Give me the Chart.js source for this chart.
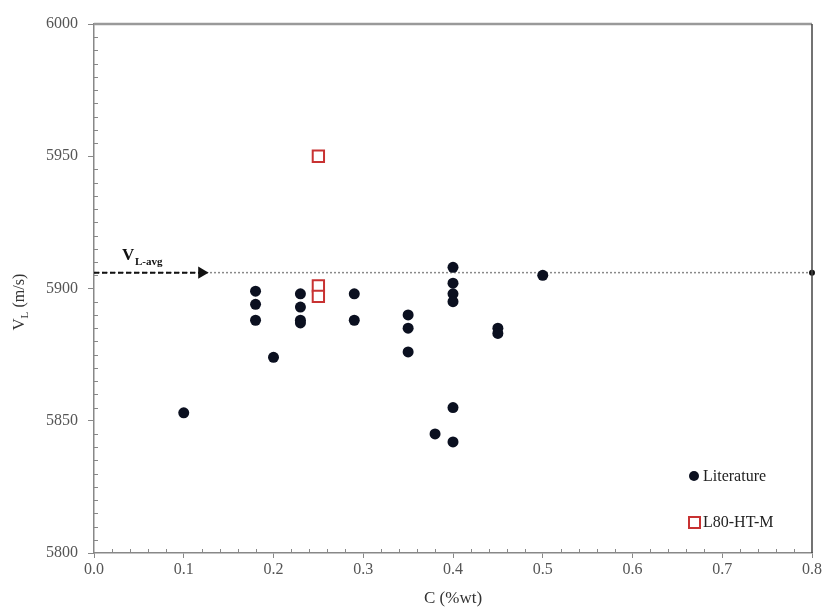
<!DOCTYPE html>
<html>
<head>
<meta charset="utf-8">
<script src="https://cdn.jsdelivr.net/npm/chart.js@4"></script>
<style>
  html, body { margin: 0; padding: 0; background: #fff; }
  #wrap { width: 825px; height: 607px; }
</style>
</head>
<body>
<div id="wrap"><canvas id="chartVL"></canvas></div>
<script>
// literature points: carbon content (%wt) and longitudinal velocity (m/s)
const litC = [0.1, 0.18, 0.18, 0.18, 0.2, 0.23, 0.23, 0.23, 0.23, 0.29, 0.29,
              0.35, 0.35, 0.35, 0.38, 0.4, 0.4, 0.4, 0.4, 0.4, 0.4, 0.45, 0.45, 0.5];
const litV = [5853, 5899, 5894, 5888, 5874, 5898, 5893, 5888, 5887, 5898, 5888,
              5890, 5885, 5876, 5845, 5908, 5902, 5898, 5895, 5855, 5842, 5885, 5883, 5905];
// L80-HT-M measurements
const l80C = [0.25, 0.25, 0.25];
const l80V = [5950, 5901, 5897];
// average velocity line
const avgV = 5906;
const avgLineC = [0, 0.8];
const arrowC = [0, 0.12];
const xTicks = [0, 0.1, 0.2, 0.3, 0.4, 0.5, 0.6, 0.7, 0.8];
const yTicks = [5800, 5850, 5900, 5950, 6000];

const serif = "'Liberation Serif', 'Times New Roman', serif";

const toPts = (xs, ys) => xs.map((x, i) => ({ x: x, y: ys[i] }));

// minor ticks, frame, legend and the labels with subscripts
const extras = {
    id: 'extras',
    afterDraw(chart) {
        const ctx = chart.ctx;
        const a = chart.chartArea;
        const xs = chart.scales.x, ys = chart.scales.y;
        ctx.save();
        // top / right frame
        ctx.strokeStyle = '#9a9a9a';
        ctx.lineWidth = 2.5;
        ctx.beginPath();
        ctx.moveTo(a.left, a.top);
        ctx.lineTo(a.right, a.top);
        ctx.stroke();
        ctx.strokeStyle = '#444';
        ctx.lineWidth = 1.5;
        ctx.beginPath();
        ctx.moveTo(a.right, a.top);
        ctx.lineTo(a.right, a.bottom);
        ctx.stroke();

        // minor ticks
        ctx.strokeStyle = '#888';
        ctx.lineWidth = 1;
        ctx.beginPath();
        for (let i = 1; i < 40; i++) {
            if (i % 5 === 0) continue;
            const px = Math.round(xs.getPixelForValue(i * 0.02)) + 0.5;
            ctx.moveTo(px, a.bottom);
            ctx.lineTo(px, a.bottom - 4);
        }
        for (let i = 1; i < 40; i++) {
            if (i % 10 === 0) continue;
            const py = Math.round(ys.getPixelForValue(5800 + i * 5)) + 0.5;
            ctx.moveTo(a.left, py);
            ctx.lineTo(a.left + 4, py);
        }
        ctx.stroke();

        // legend
        ctx.fillStyle = '#0b1020';
        ctx.beginPath();
        ctx.arc(a.right - 118, a.bottom - 77, 5, 0, Math.PI * 2);
        ctx.fill();
        ctx.strokeStyle = '#c83232';
        ctx.lineWidth = 2;
        ctx.fillStyle = '#fff';
        ctx.fillRect(a.right - 123, a.bottom - 36, 11, 11);
        ctx.strokeRect(a.right - 123, a.bottom - 36, 11, 11);
        ctx.fillStyle = '#222';
        ctx.font = '16px ' + serif;
        ctx.textBaseline = 'middle';
        ctx.textAlign = 'left';
        ctx.fillText('Literature', a.right - 109, a.bottom - 76);
        ctx.fillText('L80-HT-M', a.right - 109, a.bottom - 30);

        // V_L-avg label
        const yAvg = ys.getPixelForValue(avgV);
        ctx.fillStyle = '#111';
        ctx.textBaseline = 'alphabetic';
        ctx.font = 'bold 17px ' + serif;
        ctx.fillText('V', a.left + 28, yAvg - 13);
        ctx.font = 'bold 11px ' + serif;
        ctx.fillText('L-avg', a.left + 41, yAvg - 8);

        // y axis title
        ctx.translate(20, (a.top + a.bottom) / 2 + 12);
        ctx.rotate(-Math.PI / 2);
        ctx.fillStyle = '#333';
        ctx.textBaseline = 'middle';
        ctx.font = '17px ' + serif;
        ctx.fillText('V', -30, 0);
        ctx.font = '11px ' + serif;
        ctx.fillText('L', -18, 5);
        ctx.font = '16px ' + serif;
        ctx.fillText('(m/s)', -7, 0);
        ctx.restore();
    }
};

const data = {
    datasets: [
        {
            label: 'L80-HT-M',
            data: toPts(l80C, l80V),
            pointStyle: 'rect',
            pointRadius: 8,
            pointBorderWidth: 2,
            borderColor: '#c83232',
            backgroundColor: '#fff',
            showLine: false,
            order: 0
        },
        {
            label: 'Literature',
            data: toPts(litC, litV),
            pointStyle: 'circle',
            pointRadius: 5.5,
            pointBorderWidth: 0,
            backgroundColor: '#0b1020',
            borderColor: '#0b1020',
            showLine: false,
            order: 1
        },
        {
            label: 'arrow',
            data: toPts(arrowC, [avgV, avgV]),
            showLine: true,
            borderColor: '#111',
            backgroundColor: '#111',
            borderWidth: 2,
            borderDash: [5, 3],
            pointStyle: 'triangle',
            pointRotation: 90,
            pointRadius: [0, 5],
            order: 2
        },
        {
            label: 'avg',
            data: toPts(avgLineC, [avgV, avgV]),
            showLine: true,
            borderColor: '#8a8a8a',
            borderWidth: 1.5,
            borderDash: [2, 2],
            pointRadius: [0, 3],
            pointBackgroundColor: '#111',
            pointBorderWidth: 0,
            clip: false,
            order: 3
        }
    ]
};

const config = {
    type: 'scatter',
    data: data,
    options: {
        responsive: false,
        animation: false,
        layout: { padding: { top: 24, right: 13, left: 0, bottom: 0 } },
        plugins: {
            legend: { display: false },
            tooltip: { enabled: false }
        },
        scales: {
            x: {
                type: 'linear',
                min: 0,
                max: 0.8,
                afterFit: (s) => { s.height = 54; },
                afterBuildTicks: (s) => { s.ticks = xTicks.map(v => ({ value: v })); },
                ticks: {
                    callback: (v) => Number(v).toFixed(1),
                    color: '#555',
                    font: { family: serif, size: 16 },
                    padding: 2,
                    maxRotation: 0
                },
                grid: { drawOnChartArea: false, tickLength: 5, color: '#888' },
                border: { color: '#888', width: 1.5 },
                title: {
                    display: true,
                    text: 'C (%wt)',
                    color: '#333',
                    font: { family: serif, size: 17, lineHeight: 1 },
                    padding: { top: 0, bottom: 0 }
                }
            },
            y: {
                type: 'linear',
                min: 5800,
                max: 6000,
                afterFit: (s) => { s.width = 94; },
                afterBuildTicks: (s) => { s.ticks = yTicks.map(v => ({ value: v })); },
                ticks: {
                    callback: (v) => String(v),
                    color: '#555',
                    font: { family: serif, size: 16 },
                    padding: 10
                },
                grid: { drawOnChartArea: false, tickLength: 6, color: '#888' },
                border: { color: '#888', width: 1.5 }
            }
        }
    },
    plugins: [extras]
};

const canvas = document.getElementById('chartVL');
canvas.width = 825;
canvas.height = 607;
const myChart = new Chart(canvas, config);
</script>
</body>
</html>
